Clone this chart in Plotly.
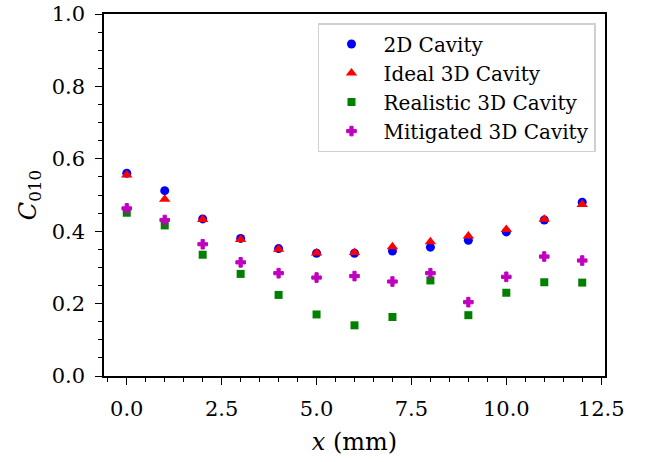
import plotly.graph_objects as go

x_mm = [0, 1, 2, 3, 4, 5, 6, 7, 8, 9, 10, 11, 12]
cavity_2d = [0.560, 0.512, 0.434, 0.380, 0.352, 0.339, 0.339, 0.345, 0.356, 0.375, 0.398, 0.431, 0.480]
ideal_3d = [0.555, 0.488, 0.432, 0.377, 0.350, 0.340, 0.341, 0.357, 0.371, 0.387, 0.405, 0.433, 0.474]
realistic_3d = [0.451, 0.416, 0.335, 0.282, 0.224, 0.170, 0.140, 0.163, 0.264, 0.168, 0.230, 0.259, 0.258]
mitigated_3d = [0.463, 0.431, 0.364, 0.314, 0.284, 0.272, 0.276, 0.261, 0.284, 0.204, 0.274, 0.330, 0.319]

series = [
    ("2D Cavity", cavity_2d, "circle", "#0000ff", 9, 0),
    ("Ideal 3D Cavity", ideal_3d, "triangle-up", "#ff0000", 10, 0),
    ("Realistic 3D Cavity", realistic_3d, "square", "#008000", 8, 0),
    ("Mitigated 3D Cavity", mitigated_3d, "cross", "#bf00bf", 8, 1),
]

FONT = "DejaVu Serif"

fig = go.Figure()
for name, vals, sym, col, sz, lw in series:
    fig.add_trace(go.Scatter(
        x=x_mm, y=vals, mode="markers", name=name,
        marker=dict(symbol=sym, color=col, size=sz, line=dict(width=lw, color=col)),
    ))

axis_common = dict(
    showline=True, linecolor="black", linewidth=1.5, mirror=True,
    ticks="outside", ticklen=7, tickwidth=1.3, tickcolor="black",
    showgrid=False, zeroline=False, automargin=False,
    tickfont=dict(family=FONT, size=21, color="black"),
)

fig.update_layout(
    width=657, height=462,
    margin=dict(l=104, r=52, t=14, b=86),
    paper_bgcolor="white", plot_bgcolor="white",
    font=dict(family=FONT, color="black"),
    showlegend=True,
    legend=dict(
        x=0.982, y=0.975, xanchor="right", yanchor="top",
        bordercolor="#d0d0d0", borderwidth=1.5, bgcolor="rgba(255,255,255,0.8)",
        font=dict(family=FONT, size=20, color="black"),
        itemwidth=54, tracegroupgap=0,
    ),
    xaxis=dict(
        range=[-0.6, 12.6], tickmode="linear", tick0=0, dtick=2.5, tickformat=".1f",
        minor=dict(ticks="outside", ticklen=4, tickwidth=1.1, tickcolor="black", dtick=0.5, tick0=0),
        title=dict(text="<i>x</i> (mm)", font=dict(family=FONT, size=24, color="black"), standoff=13),
        ticklabelstandoff=6,
        **axis_common,
    ),
    yaxis=dict(
        range=[0, 1.0], tickmode="linear", tick0=0, dtick=0.2, tickformat=".1f",
        minor=dict(ticks="outside", ticklen=4, tickwidth=1.1, tickcolor="black", dtick=0.05, tick0=0),
        title=dict(text="<i>C</i><sub>010</sub>", font=dict(family=FONT, size=24, color="black"), standoff=8),
        ticklabelstandoff=6,
        **axis_common,
    ),
)

fig.write_html("out.html")
